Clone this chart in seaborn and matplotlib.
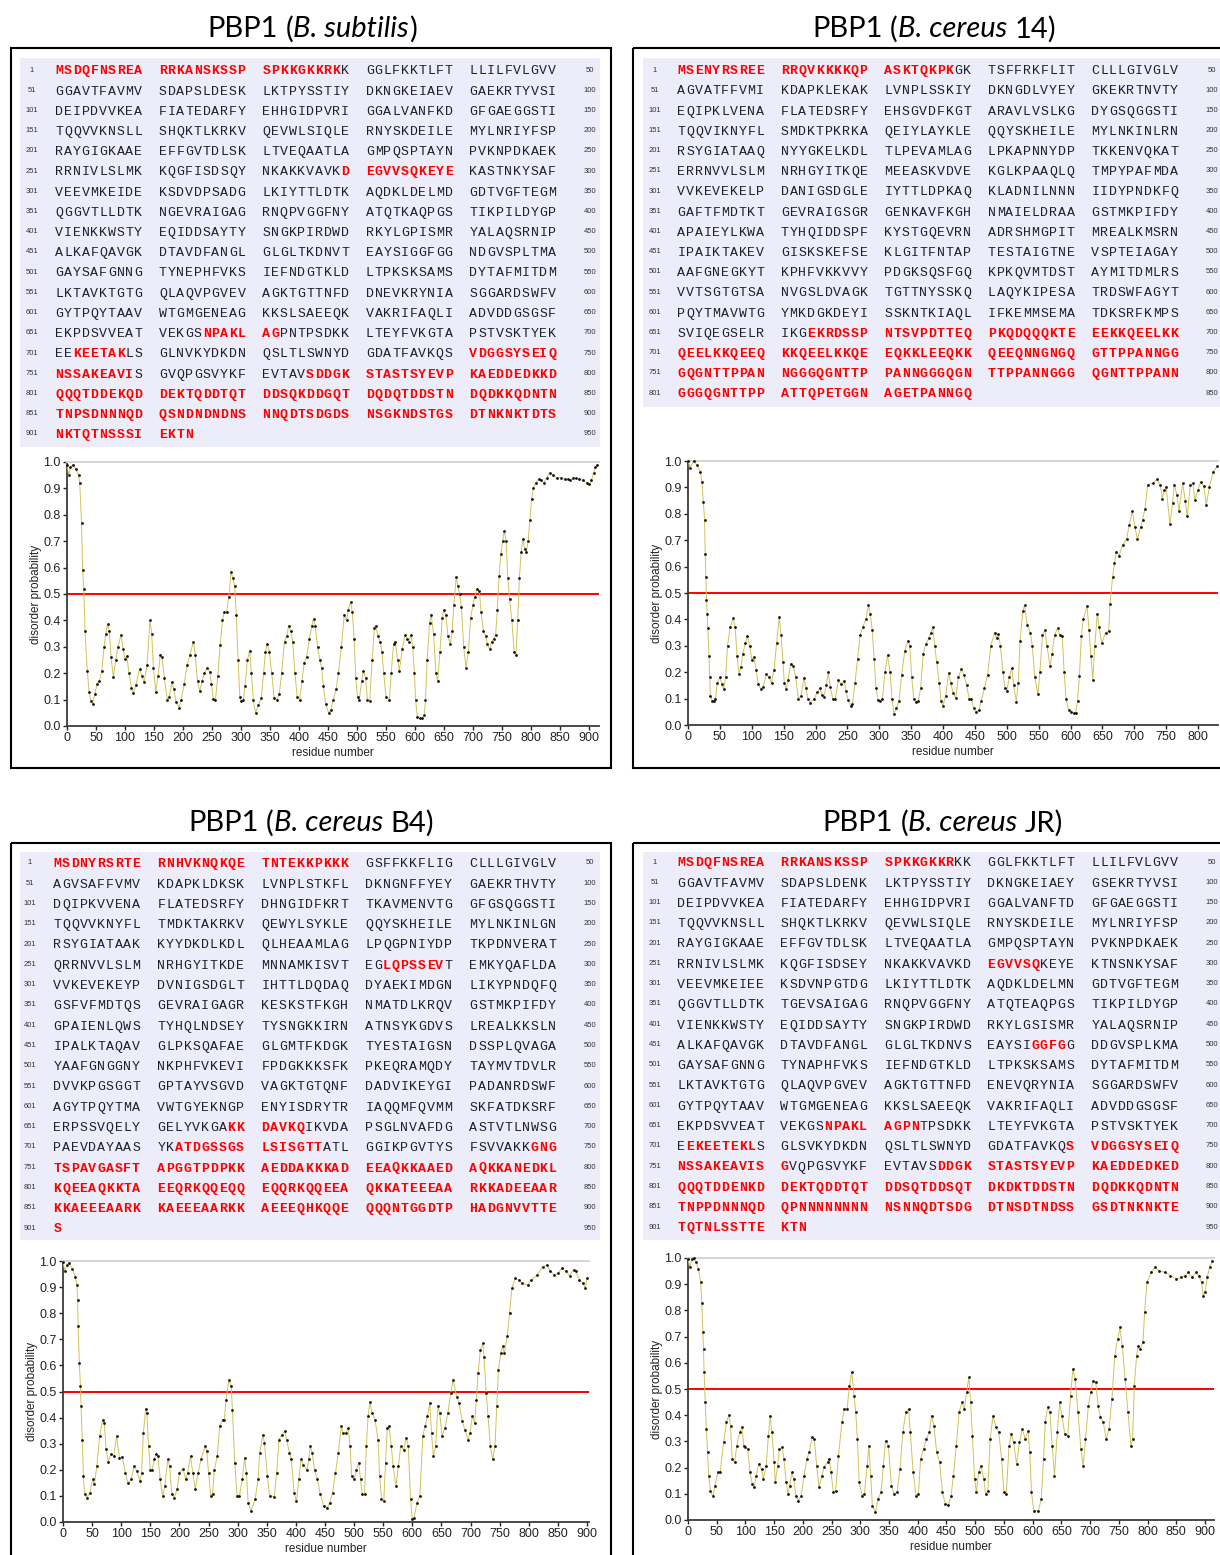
import numpy as np
import pandas as pd
import matplotlib
matplotlib.use("Agg")
import matplotlib.pyplot as plt
import seaborn as sns
from matplotlib.patches import Rectangle

# ---------------------------------------------------------------- data
title_protein = "PBP1"
title_species = ["B. subtilis", "B. cereus", "B. cereus", "B. cereus"]
title_strain = ["", "14", "B4", "JR"]

subtilis_rows = [
    "MSDQFNSREA RRKANSKSSP SPKKGKKRKK GGLFKKTLFT LLILFVLGVV",
    "GGAVTFAVMV SDAPSLDESK LKTPYSSTIY DKNGKEIAEV GAEKRTYVSI",
    "DEIPDVVKEA FIATEDARFY EHHGIDPVRI GGALVANFKD GFGAEGGSTI",
    "TQQVVKNSLL SHQKTLKRKV QEVWLSIQLE RNYSKDEILE MYLNRIYFSP",
    "RAYGIGKAAE EFFGVTDLSK LTVEQAATLA GMPQSPTAYN PVKNPDKAEK",
    "RRNIVLSLMK KQGFISDSQY NKAKKVAVKD EGVVSQKEYE KASTNKYSAF",
    "VEEVMKEIDE KSDVDPSADG LKIYTTLDTK AQDKLDELMD GDTVGFTEGM",
    "QGGVTLLDTK NGEVRAIGAG RNQPVGGFNY ATQTKAQPGS TIKPILDYGP",
    "VIENKKWSTY EQIDDSAYTY SNGKPIRDWD RKYLGPISMR YALAQSRNIP",
    "ALKAFQAVGK DTAVDFANGL GLGLTKDNVT EAYSIGGFGG NDGVSPLTMA",
    "GAYSAFGNNG TYNEPHFVKS IEFNDGTKLD LTPKSKSAMS DYTAFMITDM",
    "LKTAVKTGTG QLAQVPGVEV AGKTGTTNFD DNEVKRYNIA SGGARDSWFV",
    "GYTPQYTAAV WTGMGENEAG KKSLSAEEQK VAKRIFAQLI ADVDDGSGSF",
    "EKPDSVVEAT VEKGSNPAKL AGPNTPSDKK LTEYFVKGTA PSTVSKTYEK",
    "EEKEETAKLS GLNVKYDKDN QSLTLSWNYD GDATFAVKQS VDGGSYSEIQ",
    "NSSAKEAVIS GVQPGSVYKF EVTAVSDDGK STASTSYEVP KAEDDEDKKD",
    "QQQTDDEKQD DEKTQDDTQT DDSQKDDGQT DQDQTDDSTN DQDKKQDNTN",
    "TNPSDNNNQD QSNDNDNDNS NNQDTSDGDS NSGKNDSTGS DTNKNKTDTS",
    "NKTQTNSSSI EKTN",
]
cereus14_rows = [
    "MSENYRSREE RRQVKKKKQP ASKTQKPKGK TSFFRKFLIT CLLLGIVGLV",
    "AGVATFFVMI KDAPKLEKAK LVNPLSSKIY DKNGDLVYEY GKEKRTNVTY",
    "EQIPKLVENA FLATEDSRFY EHSGVDFKGT ARAVLVSLKG DYGSQGGSTI",
    "TQQVIKNYFL SMDKTPKRKA QEIYLAYKLE QQYSKHEILE MYLNKINLRN",
    "RSYGIATAAQ NYYGKELKDL TLPEVAMLAG LPKAPNNYDP TKKENVQKAT",
    "ERRNVVLSLM NRHGYITKQE MEEASKVDVE KGLKPAAQLQ TMPYPAFMDA",
    "VVKEVEKELP DANIGSDGLE IYTTLDPKAQ KLADNILNNN IIDYPNDKFQ",
    "GAFTFMDTKT GEVRAIGSGR GENKAVFKGH NMAIELDRAA GSTMKPIFDY",
    "APAIEYLKWA TYHQIDDSPF KYSTGQEVRN ADRSHMGPIT MREALKMSRN",
    "IPAIKTAKEV GISKSKEFSE KLGITFNTAP TESTAIGTNE VSPTEIAGAY",
    "AAFGNEGKYT KPHFVKKVVY PDGKSQSFGQ KPKQVMTDST AYMITDMLRS",
    "VVTSGTGTSA NVGSLDVAGK TGTTNYSSKQ LAQYKIPESA TRDSWFAGYT",
    "PQYTMAVWTG YMKDGKDEYI SSKNTKIAQL IFKEMMSEMA TDKSRFKMPS",
    "SVIQEGSELR IKGEKRDSSP NTSVPDTTEQ PKQDQQQKTE EEKKQEELKK",
    "QEELKKQEEQ KKQEELKKQE EQKKLEEQKK QEEQNNGNGQ GTTPPANNGG",
    "GQGNTTPPAN NGGGQGNTTP PANNGGGQGN TTPPANNGGG QGNTTPPANN",
    "GGGQGNTTPP ATTQPETGGN AGETPANNGQ",
]
cereusB4_rows = [
    "MSDNYRSRTE RNHVKNQKQE TNTEKKPKKK GSFFKKFLIG CLLLGIVGLV",
    "AGVSAFFVMV KDAPKLDKSK LVNPLSTKFL DKNGNFFYEY GAEKRTHVTY",
    "DQIPKVVENA FLATEDSRFY DHNGIDFKRT TKAVMENVTG GFGSQGGSTI",
    "TQQVVKNYFL TMDKTAKRKV QEWYLSYKLE QQYSKHEILE MYLNKINLGN",
    "RSYGIATAAK KYYDKDLKDL QLHEAAMLAG LPQGPNIYDP TKPDNVERAT",
    "QRRNVVLSLM NRHGYITKDE MNNAMKISVT EGLQPSSEVT EMKYQAFLDA",
    "VVKEVEKEYP DVNIGSDGLT IHTTLDQDAQ DYAEKIMDGN LIKYPNDQFQ",
    "GSFVFMDTQS GEVRAIGAGR KESKSTFKGH NMATDLKRQV GSTMKPIFDY",
    "GPAIENLQWS TYHQLNDSEY TYSNGKKIRN ATNSYKGDVS LREALKKSLN",
    "IPALKTAQAV GLPKSQAFAE GLGMTFKDGK TYESTAIGSN DSSPLQVAGA",
    "YAAFGNGGNY NKPHFVKEVI FPDGKKKSFK PKEQRAMQDY TAYMVTDVLR",
    "DVVKPGSGGT GPTAYVSGVD VAGKTGTQNF DADVIKEYGI PADANRDSWF",
    "AGYTPQYTMA VWTGYEKNGP ENYISDRYTR IAQQMFQVMM SKFATDKSRF",
    "ERPSSVQELY GELYVKGAKK DAVKQIKVDA PSGLNVAFDG ASTVTLNWSG",
    "PAEVDAYAAS YKATDGSSGS LSISGTTATL GGIKPGVTYS FSVVAKKGNG",
    "TSPAVGASFT APGGTPDPKK AEDDAKKKAD EEAQKKAAED AQKKANEDKL",
    "KQEEAQKKTA EEQRKQQEQQ EQQRKQQEEA QKKATEEEAA RKKADEEAAR",
    "KKAEEEAARK KAEEEAARKK AEEEQHKQQE QQQNTGGDTP HADGNVVTTE",
    "S",
]
cereusJR_rows = [
    "MSDQFNSREA RRKANSKSSP SPKKGKKRKK GGLFKKTLFT LLILFVLGVV",
    "GGAVTFAVMV SDAPSLDENK LKTPYSSTIY DKNGKEIAEY GSEKRTYVSI",
    "DEIPDVVKEA FIATEDARFY EHHGIDPVRI GGALVANFTD GFGAEGGSTI",
    "TQQVVKNSLL SHQKTLKRKV QEVWLSIQLE RNYSKDEILE MYLNRIYFSP",
    "RAYGIGKAAE EFFGVTDLSK LTVEQAATLA GMPQSPTAYN PVKNPDKAEK",
    "RRNIVLSLMK KQGFISDSEY NKAKKVAVKD EGVVSQKEYE KTNSNKYSAF",
    "VEEVMKEIEE KSDVNPGTDG LKIYTTLDTK AQDKLDELMN GDTVGFTEGM",
    "QGGVTLLDTK TGEVSAIGAG RNQPVGGFNY ATQTEAQPGS TIKPILDYGP",
    "VIENKKWSTY EQIDDSAYTY SNGKPIRDWD RKYLGSISMR YALAQSRNIP",
    "ALKAFQAVGK DTAVDFANGL GLGLTKDNVS EAYSIGGFGG DDGVSPLKMA",
    "GAYSAFGNNG TYNAPHFVKS IEFNDGTKLD LTPKSKSAMS DYTAFMITDM",
    "LKTAVKTGTG QLAQVPGVEV AGKTGTTNFD ENEVQRYNIA SGGARDSWFV",
    "GYTPQYTAAV WTGMGENEAG KKSLSAEEQK VAKRIFAQLI ADVDDGSGSF",
    "EKPDSVVEAT VEKGSNPAKL AGPNTPSDKK LTEYFVKGTA PSTVSKTYEK",
    "EEKEETEKLS GLSVKYDKDN QSLTLSWNYD GDATFAVKQS VDGGSYSEIQ",
    "NSSAKEAVIS GVQPGSVYKF EVTAVSDDGK STASTSYEVP KAEDDEDKED",
    "QQQTDDENKD DEKTQDDTQT DDSQTDDSQT DKDKTDDSTN DQDKKQDNTN",
    "TNPPDNNNQD QPNNNNNNNN NSNNQDTSDG DTNSDTNDSS GSDTNKNKTE",
    "TQTNLSSTTE KTN",
]

# residue ranges (1-based, inclusive) predicted as disordered
subtilis_red = [(1, 29), (280, 290), (666, 672), (703, 708), (741, 759), (776, 914)]
cereus14_red = [(1, 28), (664, 830)]
cereusB4_red = [(1, 30), (283, 289), (669, 675), (713, 727), (748, 901)]
cereusJR_red = [(1, 28), (281, 286), (486, 489), (666, 674), (702, 709), (740, 761), (777, 913)]

# disorder probability profiles: (residue, probability)
subtilis_profile = [
    (0, 0.99), (3, 0.95), (6, 0.98), (10, 0.99), (15, 0.975), (20, 0.95), (22, 0.92), (25, 0.77),
    (27, 0.59), (29, 0.52), (31, 0.36), (35, 0.21), (38, 0.13), (41, 0.095), (44, 0.085), (48, 0.12),
    (52, 0.16), (56, 0.17), (60, 0.21), (64, 0.3), (67, 0.35), (70, 0.385), (73, 0.36), (76, 0.26),
    (80, 0.185), (84, 0.25), (88, 0.3), (93, 0.345), (97, 0.29), (100, 0.255), (103, 0.265), (107, 0.2),
    (111, 0.145), (114, 0.125), (119, 0.155), (125, 0.215), (129, 0.19), (133, 0.165), (138, 0.23),
    (143, 0.4), (146, 0.35), (149, 0.22), (153, 0.13), (157, 0.19), (161, 0.27), (164, 0.26), (168, 0.18),
    (173, 0.1), (176, 0.11), (181, 0.165), (184, 0.14), (188, 0.09), (193, 0.07), (197, 0.1), (202, 0.16),
    (207, 0.23), (212, 0.27), (218, 0.32), (221, 0.27), (225, 0.17), (229, 0.132), (233, 0.17), (237, 0.2),
    (242, 0.22), (246, 0.205), (249, 0.16), (252, 0.103), (256, 0.1), (260, 0.19), (264, 0.307), (268, 0.4),
    (271, 0.43), (275, 0.43), (279, 0.49), (283, 0.585), (286, 0.56), (289, 0.53), (292, 0.42), (295, 0.25),
    (298, 0.11), (300, 0.095), (304, 0.097), (307, 0.15), (311, 0.25), (315, 0.285), (318, 0.2), (321, 0.1),
    (325, 0.05), (330, 0.08), (335, 0.105), (339, 0.2), (342, 0.28), (345, 0.31), (349, 0.28), (353, 0.2),
    (357, 0.105), (362, 0.1), (366, 0.12), (370, 0.2), (375, 0.32), (379, 0.34), (382, 0.38), (386, 0.36),
    (389, 0.32), (393, 0.2), (397, 0.11), (401, 0.1), (405, 0.17), (409, 0.24), (413, 0.26), (418, 0.33),
    (422, 0.38), (425, 0.405), (428, 0.38), (432, 0.3), (436, 0.25), (439, 0.22), (442, 0.15), (446, 0.085),
    (451, 0.05), (455, 0.06), (459, 0.1), (464, 0.14), (468, 0.2), (473, 0.3), (478, 0.42), (482, 0.4),
    (485, 0.44), (489, 0.47), (492, 0.43), (495, 0.33), (498, 0.18), (501, 0.11), (504, 0.1), (508, 0.17),
    (511, 0.21), (515, 0.18), (518, 0.1), (522, 0.095), (526, 0.25), (530, 0.37), (532, 0.38), (536, 0.34),
    (540, 0.32), (543, 0.28), (546, 0.2), (550, 0.11), (556, 0.1), (559, 0.2), (563, 0.31), (566, 0.32),
    (570, 0.25), (573, 0.21), (578, 0.29), (583, 0.345), (586, 0.33), (589, 0.32), (593, 0.345), (596, 0.3),
    (599, 0.2), (601, 0.1), (604, 0.035), (608, 0.03), (612, 0.03), (616, 0.04), (618, 0.1), (621, 0.25),
    (625, 0.39), (628, 0.42), (632, 0.35), (636, 0.2), (639, 0.17), (643, 0.28), (647, 0.41), (650, 0.44),
    (653, 0.42), (657, 0.34), (661, 0.31), (664, 0.36), (667, 0.46), (671, 0.565), (674, 0.53), (677, 0.5),
    (680, 0.45), (684, 0.3), (688, 0.22), (692, 0.28), (696, 0.41), (700, 0.46), (703, 0.49), (707, 0.52),
    (711, 0.51), (714, 0.43), (718, 0.36), (722, 0.34), (725, 0.31), (729, 0.29), (732, 0.32), (736, 0.33),
    (739, 0.345), (742, 0.44), (745, 0.57), (748, 0.65), (751, 0.7), (754, 0.74), (757, 0.7), (760, 0.56),
    (763, 0.48), (767, 0.4), (771, 0.28), (774, 0.27), (777, 0.4), (780, 0.56), (783, 0.66), (786, 0.71),
    (789, 0.67), (792, 0.66), (795, 0.7), (798, 0.78), (801, 0.86), (804, 0.9), (808, 0.92), (813, 0.935),
    (818, 0.93), (822, 0.92), (827, 0.94), (832, 0.96), (838, 0.95), (845, 0.94), (852, 0.94), (858, 0.935),
    (863, 0.935), (868, 0.93), (872, 0.94), (877, 0.94), (883, 0.935), (890, 0.93), (896, 0.92),
    (900, 0.915), (904, 0.93), (908, 0.96), (911, 0.98), (914, 0.99),
]
cereus14_profile = [
    (0, 1.0), (3, 0.975), (9, 1.0), (14, 0.985), (19, 0.96), (22, 0.92), (24, 0.846), (26, 0.777),
    (27, 0.647), (28, 0.56), (29, 0.475), (30, 0.42), (31, 0.368), (33, 0.263), (34, 0.18), (35, 0.11),
    (38, 0.092), (40, 0.09), (43, 0.1), (46, 0.16), (50, 0.18), (53, 0.155), (56, 0.135), (59, 0.18),
    (62, 0.3), (66, 0.37), (71, 0.405), (74, 0.37), (77, 0.26), (80, 0.195), (83, 0.22), (86, 0.27),
    (90, 0.31), (93, 0.336), (97, 0.3), (100, 0.248), (103, 0.257), (107, 0.21), (110, 0.155), (114, 0.137),
    (118, 0.145), (123, 0.194), (127, 0.18), (131, 0.16), (135, 0.21), (139, 0.31), (143, 0.41), (146, 0.34),
    (149, 0.24), (151, 0.16), (154, 0.135), (157, 0.17), (161, 0.232), (165, 0.225), (169, 0.18), (173, 0.1),
    (177, 0.11), (182, 0.179), (185, 0.14), (188, 0.1), (192, 0.084), (198, 0.1), (203, 0.125), (207, 0.139),
    (210, 0.115), (213, 0.105), (217, 0.15), (220, 0.2), (223, 0.145), (227, 0.1), (231, 0.1), (236, 0.17),
    (240, 0.155), (245, 0.166), (248, 0.13), (251, 0.095), (255, 0.072), (258, 0.08), (262, 0.16),
    (266, 0.25), (270, 0.34), (274, 0.37), (279, 0.4), (283, 0.455), (286, 0.42), (289, 0.36), (292, 0.25),
    (295, 0.14), (298, 0.095), (301, 0.09), (305, 0.1), (309, 0.2), (313, 0.265), (317, 0.2), (320, 0.1),
    (323, 0.043), (327, 0.065), (331, 0.09), (335, 0.19), (340, 0.28), (345, 0.32), (348, 0.3), (351, 0.18),
    (354, 0.1), (357, 0.088), (361, 0.09), (365, 0.14), (369, 0.27), (373, 0.305), (378, 0.33), (381, 0.35),
    (384, 0.37), (387, 0.3), (390, 0.24), (394, 0.16), (397, 0.09), (400, 0.072), (404, 0.11), (409, 0.198),
    (412, 0.16), (416, 0.12), (420, 0.103), (424, 0.18), (429, 0.214), (433, 0.19), (437, 0.15), (441, 0.1),
    (444, 0.1), (448, 0.065), (452, 0.05), (456, 0.055), (460, 0.09), (465, 0.14), (470, 0.19), (475, 0.3),
    (481, 0.35), (484, 0.33), (487, 0.345), (490, 0.3), (494, 0.2), (497, 0.14), (500, 0.13), (504, 0.18),
    (508, 0.216), (511, 0.15), (515, 0.088), (518, 0.16), (521, 0.32), (525, 0.43), (528, 0.455), (532, 0.38),
    (537, 0.35), (540, 0.3), (544, 0.18), (549, 0.116), (552, 0.2), (556, 0.34), (560, 0.36), (563, 0.3),
    (568, 0.223), (571, 0.27), (575, 0.34), (580, 0.368), (583, 0.34), (587, 0.339), (590, 0.2), (593, 0.1),
    (597, 0.055), (601, 0.05), (605, 0.045), (608, 0.045), (611, 0.09), (614, 0.185), (617, 0.336),
    (620, 0.4), (626, 0.45), (629, 0.36), (632, 0.26), (635, 0.17), (638, 0.3), (642, 0.42), (645, 0.37),
    (649, 0.31), (655, 0.35), (660, 0.355), (662, 0.46), (666, 0.56), (669, 0.613), (672, 0.657), (676, 0.64),
    (682, 0.683), (688, 0.704), (692, 0.758), (697, 0.81), (701, 0.75), (705, 0.704), (710, 0.75),
    (713, 0.777), (717, 0.82), (721, 0.91), (729, 0.916), (736, 0.93), (741, 0.91), (744, 0.855), (747, 0.89),
    (750, 0.9), (756, 0.76), (760, 0.84), (763, 0.91), (767, 0.87), (770, 0.81), (776, 0.915), (780, 0.85),
    (783, 0.79), (788, 0.91), (792, 0.915), (795, 0.853), (800, 0.89), (804, 0.92), (809, 0.905),
    (813, 0.834), (818, 0.903), (824, 0.96), (830, 0.98),
]
cereusB4_profile = [
    (0, 0.997), (3, 0.963), (7, 0.985), (10, 0.994), (16, 0.97), (21, 0.94), (24, 0.908), (25, 0.85),
    (26, 0.75), (28, 0.61), (30, 0.52), (31, 0.443), (33, 0.316), (35, 0.176), (37, 0.106), (41, 0.093),
    (46, 0.112), (51, 0.163), (54, 0.144), (58, 0.214), (63, 0.329), (68, 0.392), (71, 0.38), (74, 0.278),
    (78, 0.23), (82, 0.259), (87, 0.252), (92, 0.329), (97, 0.246), (102, 0.25), (107, 0.189), (112, 0.148),
    (117, 0.163), (122, 0.214), (127, 0.195), (132, 0.157), (135, 0.189), (138, 0.341), (142, 0.433),
    (144, 0.418), (147, 0.29), (150, 0.2), (153, 0.2), (157, 0.24), (160, 0.262), (163, 0.252), (167, 0.163),
    (171, 0.1), (175, 0.138), (180, 0.24), (183, 0.214), (187, 0.106), (191, 0.093), (196, 0.125),
    (200, 0.189), (206, 0.204), (211, 0.163), (214, 0.189), (219, 0.252), (223, 0.189), (227, 0.125),
    (232, 0.189), (237, 0.24), (244, 0.29), (247, 0.271), (250, 0.189), (254, 0.1), (257, 0.106), (260, 0.2),
    (265, 0.252), (269, 0.367), (274, 0.392), (277, 0.392), (280, 0.469), (285, 0.545), (289, 0.52),
    (291, 0.43), (295, 0.227), (299, 0.1), (303, 0.1), (308, 0.163), (312, 0.246), (315, 0.189), (318, 0.074),
    (323, 0.042), (330, 0.087), (335, 0.163), (338, 0.265), (343, 0.335), (346, 0.303), (351, 0.176),
    (355, 0.1), (363, 0.097), (367, 0.189), (371, 0.316), (376, 0.335), (381, 0.348), (384, 0.316),
    (389, 0.265), (392, 0.24), (397, 0.112), (401, 0.08), (405, 0.163), (409, 0.24), (413, 0.22), (419, 0.199),
    (422, 0.24), (425, 0.29), (428, 0.265), (432, 0.2), (437, 0.163), (442, 0.106), (448, 0.061), (454, 0.055),
    (458, 0.074), (463, 0.112), (468, 0.189), (473, 0.265), (478, 0.367), (481, 0.341), (486, 0.341),
    (490, 0.36), (493, 0.29), (496, 0.176), (500, 0.163), (504, 0.2), (508, 0.227), (511, 0.163), (514, 0.106),
    (518, 0.106), (521, 0.29), (524, 0.405), (527, 0.459), (531, 0.418), (536, 0.392), (541, 0.316),
    (544, 0.176), (547, 0.087), (551, 0.08), (554, 0.227), (557, 0.36), (560, 0.367), (564, 0.29), (567, 0.214),
    (572, 0.138), (576, 0.214), (580, 0.29), (585, 0.275), (590, 0.322), (593, 0.29), (597, 0.087), (600, 0.01),
    (603, 0.017), (608, 0.074), (613, 0.1), (618, 0.329), (622, 0.367), (626, 0.405), (630, 0.456),
    (633, 0.341), (636, 0.252), (640, 0.29), (644, 0.443), (647, 0.418), (651, 0.329), (656, 0.36),
    (661, 0.418), (666, 0.494), (670, 0.545), (676, 0.48), (680, 0.456), (686, 0.386), (690, 0.354),
    (696, 0.316), (699, 0.341), (703, 0.405), (707, 0.38), (710, 0.469), (713, 0.571), (717, 0.66),
    (721, 0.685), (723, 0.634), (727, 0.494), (730, 0.405), (734, 0.29), (738, 0.24), (742, 0.29), (745, 0.443),
    (748, 0.583), (752, 0.647), (755, 0.673), (758, 0.647), (763, 0.711), (767, 0.8), (771, 0.896),
    (777, 0.934), (783, 0.927), (788, 0.915), (798, 0.908), (804, 0.927), (814, 0.946), (824, 0.978),
    (831, 0.985), (837, 0.96), (844, 0.946), (850, 0.953), (857, 0.972), (864, 0.962), (870, 0.943),
    (877, 0.966), (881, 0.96), (887, 0.927), (893, 0.915), (897, 0.896), (900, 0.934),
]
cereusJR_profile = [
    (0, 0.996), (3, 0.964), (7, 0.996), (10, 0.999), (14, 0.983), (18, 0.958), (22, 0.907), (24, 0.83),
    (26, 0.716), (27, 0.653), (28, 0.564), (30, 0.449), (32, 0.347), (34, 0.258), (36, 0.169), (39, 0.112),
    (43, 0.09), (47, 0.131), (52, 0.182), (56, 0.182), (62, 0.296), (67, 0.373), (71, 0.4), (74, 0.36),
    (77, 0.233), (81, 0.22), (85, 0.284), (90, 0.335), (94, 0.354), (97, 0.284), (100, 0.277), (104, 0.271),
    (108, 0.182), (112, 0.137), (115, 0.125), (119, 0.169), (123, 0.214), (128, 0.195), (131, 0.156),
    (136, 0.207), (140, 0.322), (143, 0.398), (146, 0.335), (150, 0.22), (152, 0.144), (156, 0.207),
    (159, 0.271), (164, 0.277), (167, 0.233), (171, 0.144), (174, 0.099), (177, 0.131), (181, 0.182),
    (184, 0.156), (188, 0.093), (192, 0.074), (197, 0.093), (202, 0.169), (207, 0.233), (211, 0.258),
    (216, 0.316), (220, 0.309), (224, 0.207), (228, 0.125), (233, 0.169), (237, 0.201), (243, 0.22),
    (246, 0.233), (249, 0.182), (253, 0.106), (257, 0.112), (262, 0.246), (268, 0.373), (272, 0.424),
    (277, 0.424), (281, 0.513), (285, 0.564), (289, 0.475), (292, 0.411), (295, 0.309), (298, 0.144),
    (303, 0.093), (307, 0.099), (312, 0.207), (315, 0.284), (318, 0.169), (321, 0.055), (326, 0.029),
    (331, 0.08), (336, 0.106), (340, 0.207), (344, 0.303), (349, 0.284), (354, 0.131), (359, 0.099),
    (364, 0.106), (369, 0.195), (374, 0.335), (379, 0.411), (384, 0.424), (387, 0.335), (392, 0.182),
    (397, 0.093), (401, 0.099), (405, 0.233), (410, 0.271), (415, 0.309), (420, 0.335), (424, 0.398),
    (428, 0.36), (433, 0.258), (438, 0.22), (443, 0.106), (448, 0.061), (453, 0.057), (458, 0.093),
    (462, 0.169), (467, 0.284), (472, 0.411), (477, 0.449), (481, 0.424), (485, 0.487), (489, 0.545),
    (492, 0.449), (495, 0.322), (499, 0.156), (502, 0.106), (506, 0.182), (510, 0.207), (515, 0.156),
    (518, 0.099), (522, 0.112), (526, 0.309), (531, 0.398), (536, 0.354), (541, 0.335), (546, 0.233),
    (550, 0.106), (554, 0.099), (559, 0.284), (563, 0.328), (567, 0.296), (572, 0.214), (577, 0.296),
    (582, 0.347), (587, 0.309), (592, 0.341), (595, 0.258), (598, 0.106), (602, 0.036), (610, 0.036),
    (615, 0.08), (619, 0.233), (622, 0.373), (626, 0.43), (630, 0.411), (634, 0.284), (638, 0.169),
    (643, 0.335), (647, 0.449), (651, 0.398), (656, 0.328), (661, 0.322), (666, 0.475), (670, 0.576),
    (674, 0.538), (679, 0.411), (684, 0.271), (688, 0.207), (692, 0.309), (697, 0.436), (701, 0.487),
    (705, 0.532), (710, 0.525), (714, 0.436), (718, 0.392), (723, 0.373), (728, 0.309), (733, 0.347),
    (738, 0.462), (743, 0.627), (748, 0.691), (752, 0.735), (756, 0.665), (761, 0.538), (766, 0.411),
    (771, 0.284), (774, 0.309), (777, 0.513), (781, 0.627), (784, 0.665), (787, 0.653), (792, 0.678),
    (795, 0.793), (799, 0.907), (806, 0.945), (813, 0.964), (820, 0.952), (830, 0.945), (840, 0.933),
    (850, 0.92), (859, 0.926), (866, 0.933), (871, 0.945), (877, 0.926), (884, 0.945), (889, 0.933),
    (894, 0.907), (897, 0.856), (900, 0.869), (904, 0.926), (908, 0.964), (913, 0.99),
]

threshold = 0.5
y_ticks = [0.0, 0.1, 0.2, 0.3, 0.4, 0.5, 0.6, 0.7, 0.8, 0.9, 1.0]

# ---------------------------------------------------------------- style
sns.set_theme(style="white")
plt.rcParams["font.family"] = ["Liberation Sans", "DejaVu Sans"]

W, H = 1220, 1555
fig = plt.figure(figsize=(W / 100, H / 100), dpi=100)
canvas = fig.add_axes([0, 0, 1, 1])
canvas.set_xlim(0, W)
canvas.set_ylim(H, 0)
canvas.axis("off")
canvas.set_zorder(0)
renderer = fig.canvas.get_renderer()

SEQ_FS = 9.5                 # pt
CELL = 8.75                  # px per residue column
SEQ_BLACK = "#1e1e32"
SEQ_RED = "#ff0000"
LAVENDER = "#ededfa"
TITLE_FS = 21
TITLE_FONT = "Lato"

panels = [
    dict(frame=(11, 48, 611, 768), title_xy=(312, 29),
         rows=subtilis_rows, red=subtilis_red, bg=(20, 58, 600, 447),
         num_l=32, num_r=590, blocks=[55, 158.5, 262, 365.5, 469], row0=70, dy=20.22,
         profile=subtilis_profile, ax_px=(67, 462, 726), xmax=918, scale=0.58,
         xticks=list(range(0, 901, 50))),
    dict(frame=(633, 48, 1225, 768), title_xy=(934, 29),
         rows=cereus14_rows, red=cereus14_red, bg=(643, 58, 1225, 407),
         num_l=655, num_r=1212, blocks=[677, 780.5, 884, 987.5, 1091], row0=70, dy=20.19,
         profile=cereus14_profile, ax_px=(688, 461, 725), xmax=832, scale=0.6375,
         xticks=list(range(0, 801, 50))),
    dict(frame=(11, 843, 611, 1570), title_xy=(311, 823),
         rows=cereusB4_rows, red=cereusB4_red, bg=(20, 852, 600, 1240),
         num_l=30, num_r=590, blocks=[53, 157, 261, 365, 469], row0=863, dy=20.28,
         profile=cereusB4_profile, ax_px=(63, 1261, 1522), xmax=903, scale=0.5822,
         xticks=list(range(0, 901, 50))),
    dict(frame=(633, 843, 1225, 1570), title_xy=(943, 823),
         rows=cereusJR_rows, red=cereusJR_red, bg=(643, 852, 1225, 1240),
         num_l=655, num_r=1212, blocks=[677, 780, 884, 987, 1091], row0=862, dy=20.28,
         profile=cereusJR_profile, ax_px=(688, 1258, 1520), xmax=916, scale=0.5744,
         xticks=list(range(0, 901, 50))),
]


def text_width(s, style="normal"):
    t = canvas.text(0, 0, s, family=TITLE_FONT, fontsize=TITLE_FS, style=style)
    w = t.get_window_extent(renderer).width
    t.remove()
    return w


SPACE = text_width("x x") - text_width("xx")


def draw_title(xc, yc, species, strain):
    # pieces: (text, style, gap before)
    pieces = [(title_protein, "normal", 0), ("(", "normal", SPACE),
              (species, "italic", 0)]
    if strain:
        pieces.append((strain + ")", "normal", SPACE))
    else:
        pieces.append((")", "normal", 0))
    widths = [text_width(s, st) for s, st, _ in pieces]
    total = sum(widths) + sum(g for _, _, g in pieces)
    x = xc - total / 2
    for (s, st, gap), w in zip(pieces, widths):
        x += gap
        canvas.text(x, yc, s, family=TITLE_FONT, fontsize=TITLE_FS, style=st,
                    ha="left", va="center", color="black")
        x += w


def draw_sequence(p):
    seq = "".join(p["rows"]).replace(" ", "")
    red_set = set()
    for a, b in p["red"]:
        red_set.update(range(a, b + 1))
    nrows = (len(seq) + 49) // 50
    for r in range(nrows):
        yc = p["row0"] + r * p["dy"]
        canvas.text(p["num_l"], yc, str(r * 50 + 1), fontsize=5.5, color="#333333",
                    ha="center", va="center")
        canvas.text(p["num_r"], yc, str(r * 50 + 50), fontsize=5.5, color="#333333",
                    ha="center", va="center")
        for b in range(5):
            start = r * 50 + b * 10
            chunk = seq[start:start + 10]
            for i, ch in enumerate(chunk):
                is_red = (start + i + 1) in red_set
                canvas.text(p["blocks"][b] + (i + 0.5) * CELL, yc + 4.3, ch,
                            family="Liberation Mono", fontsize=SEQ_FS,
                            fontweight="bold" if is_red else "normal",
                            color=SEQ_RED if is_red else SEQ_BLACK,
                            ha="center", va="baseline")


for k, p in enumerate(panels):
    # panel frame and title
    x0, y0, x1, y1 = p["frame"]
    canvas.add_patch(Rectangle((x0, y0), x1 - x0, y1 - y0, fill=False,
                               edgecolor="black", lw=1.5, clip_on=False))
    draw_title(p["title_xy"][0], p["title_xy"][1], title_species[k], title_strain[k])

    # sequence panel
    bx0, by0, bx1, by1 = p["bg"]
    canvas.add_patch(Rectangle((bx0, by0), bx1 - bx0, by1 - by0, facecolor=LAVENDER,
                               edgecolor="none"))
    draw_sequence(p)

    # disorder profile
    L, T, B = p["ax_px"]
    R = L + p["xmax"] * p["scale"]
    ax = fig.add_axes([L / W, 1 - B / H, (R - L) / W, (B - T) / H])
    ax.set_zorder(2)
    ax.set_facecolor("none")
    df = pd.DataFrame(p["profile"], columns=["residue", "disorder"])
    ax.axhline(threshold, color="#ff0000", lw=1.4, zorder=1)
    sns.lineplot(data=df, x="residue", y="disorder", ax=ax, color="#d2c25a", lw=0.7,
                 marker="o", markersize=2.0, markerfacecolor="#111111",
                 markeredgecolor="#111111", markeredgewidth=0, estimator=None,
                 errorbar=None, sort=False, clip_on=False, zorder=3)
    ax.set_xlim(0, p["xmax"])
    ax.set_ylim(0, 1.0)
    ax.set_xticks(p["xticks"])
    ax.set_xticklabels([str(t) for t in p["xticks"]])
    ax.set_yticks(y_ticks)
    ax.set_yticklabels([f"{v:.1f}" for v in y_ticks])
    ax.set_xlabel("")
    ax.set_ylabel("")
    ax.grid(False)
    ax.spines["right"].set_visible(False)
    ax.spines["top"].set_color("#d6d6d6")
    ax.spines["top"].set_linewidth(1.5)
    for s in ("left", "bottom"):
        ax.spines[s].set_color("#3a3a3a")
        ax.spines[s].set_linewidth(1.3)
    ax.tick_params(axis="both", which="major", bottom=True, left=True, direction="out",
                   length=3, width=1, pad=1.5, labelsize=9, colors="#222222")

    canvas.text(L - 31, (T + B) / 2, "disorder probability", rotation=90, fontsize=8.5,
                ha="center", va="center", color="#222222")
    canvas.text((L + R) / 2, B + 27, "residue number", fontsize=8.5, ha="center",
                va="center", color="#222222")

fig.savefig("out.png", dpi=100)
